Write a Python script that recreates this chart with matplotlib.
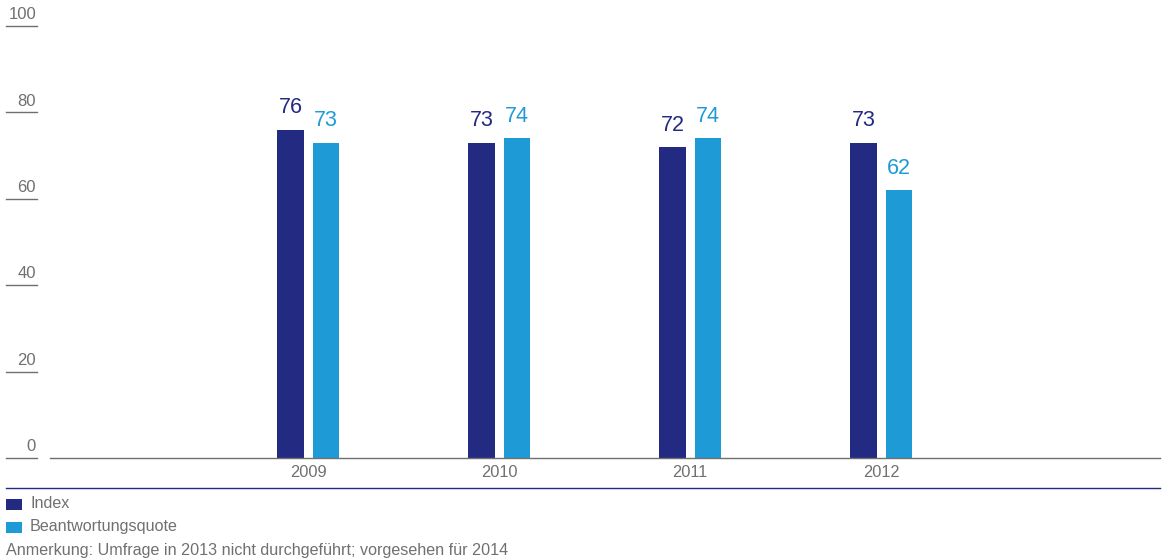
import matplotlib.pyplot as plt
import matplotlib.transforms as mtransforms
from matplotlib.lines import Line2D
from matplotlib.patches import Rectangle
import numpy as np

plt.rcParams['font.family'] = ['Liberation Sans', 'DejaVu Sans']

JAHRE = ["2009", "2010", "2011", "2012"]
INDEX = [76, 73, 72, 73]
QUOTE = [73, 74, 74, 62]
Y_TICKS = [0, 20, 40, 60, 80, 100]

NAVY = "#232a82"
HELLBLAU = "#1e9bd7"
GRAU = "#707070"

W, H = 1171, 559
fig = plt.figure(figsize=(W / 100, H / 100), dpi=100)

def fx(px):
    return px / W

def fy(py):
    return 1 - py / H

ax = fig.add_axes([fx(50), fy(458), fx(1160) - fx(50), fy(26) - fy(458)])

x = np.arange(len(JAHRE))
breite = 0.137
versatz = 0.092

b1 = ax.bar(x - versatz, INDEX, breite, color=NAVY)
b2 = ax.bar(x + versatz, QUOTE, breite, color=HELLBLAU)

for rect, v in zip(b1, INDEX):
    ax.text(rect.get_x() + rect.get_width() / 2, v + 2.6, str(v),
            ha="center", va="bottom", fontsize=15.5, color=NAVY)
for rect, v in zip(b2, QUOTE):
    ax.text(rect.get_x() + rect.get_width() / 2, v + 2.6, str(v),
            ha="center", va="bottom", fontsize=15.5, color=HELLBLAU)

ax.set_xlim(-1.351, 4.46)
ax.set_ylim(0, 100)
ax.set_xticks(x)
ax.set_xticklabels(JAHRE, fontsize=11.8, color=GRAU)
ax.tick_params(axis="x", length=0, pad=5)
ax.set_yticks([])
for s in ["top", "left", "right"]:
    ax.spines[s].set_visible(False)
ax.spines["bottom"].set_color(GRAU)
ax.spines["bottom"].set_linewidth(1.0)

# kurze Linien und Beschriftung der y-Achse links
trans = mtransforms.blended_transform_factory(fig.transFigure, ax.transData)
for t in Y_TICKS:
    fig.add_artist(Line2D([fx(6), fx(37)], [t, t], transform=trans,
                          color=GRAU, linewidth=1.0))
    ax.text(fx(36), t + 2.6, str(t), transform=trans, ha="right", va="center",
            fontsize=12, color=GRAU)

# dunkle Trennlinie
fig.add_artist(Line2D([fx(6), fx(1160)], [fy(488), fy(488)],
                      transform=fig.transFigure, color=NAVY, linewidth=1.0))

# Legende
for i, (lab, col) in enumerate([("Index", NAVY), ("Beantwortungsquote", HELLBLAU)]):
    yc = 504 + i * 23
    fig.add_artist(Rectangle((fx(6), fy(yc + 5.5)), fx(16), fy(yc - 5.5) - fy(yc + 5.5),
                             transform=fig.transFigure, color=col, lw=0))
    fig.text(fx(30), fy(yc), lab, ha="left", va="center", fontsize=11.6, color=GRAU)

fig.text(fx(6), fy(550), "Anmerkung: Umfrage in 2013 nicht durchgeführt; vorgesehen für 2014",
         ha="left", va="center", fontsize=11.6, color=GRAU)

fig.savefig("out.png", dpi=100)
